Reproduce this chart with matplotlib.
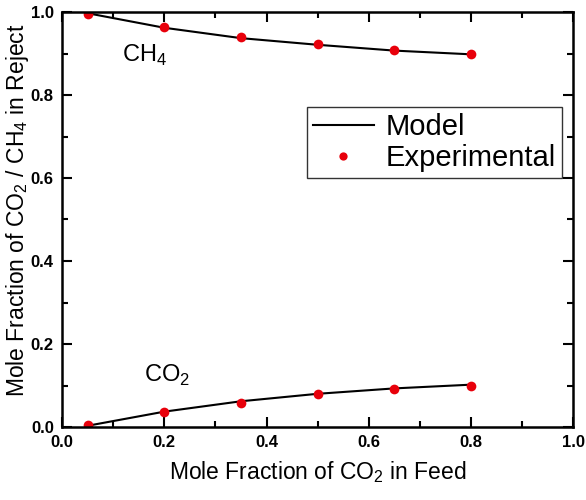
import matplotlib
matplotlib.use("Agg")
import matplotlib.pyplot as plt
from matplotlib.ticker import MultipleLocator

plt.rcParams['font.family'] = ['Liberation Sans', 'DejaVu Sans']
plt.rcParams['mathtext.fontset'] = 'custom'
plt.rcParams['mathtext.rm'] = 'Liberation Sans'

# 进料中CO2摩尔分数
feed_co2 = [0.05, 0.2, 0.35, 0.5, 0.65, 0.8]

# 实验值
exp_ch4 = [0.995, 0.964, 0.939, 0.922, 0.908, 0.900]
exp_co2 = [0.004, 0.036, 0.058, 0.079, 0.092, 0.100]

# 模型值
model_ch4 = [0.997, 0.962, 0.937, 0.921, 0.907, 0.898]
model_co2 = [0.003, 0.037, 0.062, 0.080, 0.093, 0.102]

fig = plt.figure(figsize=(5.86, 5.0), dpi=100)
ax = fig.add_axes([0.106, 0.146, 0.872, 0.830])

ax.plot(feed_co2, model_ch4, color='black', linewidth=1.5, label='Model')
ax.plot(feed_co2, model_co2, color='black', linewidth=1.5)
ax.plot(feed_co2, exp_ch4, 'o', color='#e8000b', markersize=7,
        markeredgewidth=0, label='Experimental')
ax.plot(feed_co2, exp_co2, 'o', color='#e8000b', markersize=7,
        markeredgewidth=0)

ax.set_xlim(0, 1)
ax.set_ylim(0, 1)
ax.xaxis.set_major_locator(MultipleLocator(0.2))
ax.xaxis.set_minor_locator(MultipleLocator(0.1))
ax.yaxis.set_major_locator(MultipleLocator(0.2))
ax.yaxis.set_minor_locator(MultipleLocator(0.1))
ax.xaxis.set_major_formatter(plt.FormatStrFormatter('%.1f'))
ax.yaxis.set_major_formatter(plt.FormatStrFormatter('%.1f'))

ax.tick_params(which='both', direction='in', top=True, right=True,
               width=1.5)
ax.tick_params(which='major', length=7, labelsize=12, pad=6)
ax.tick_params(which='minor', length=4)
for lab in ax.get_xticklabels() + ax.get_yticklabels():
    lab.set_fontweight('bold')
for sp in ax.spines.values():
    sp.set_linewidth(1.8)

ax.set_xlabel('Mole Fraction of CO$_2$ in Feed', fontsize=16.5, labelpad=6)
ax.set_ylabel('Mole Fraction of CO$_2$ / CH$_4$ in Reject', fontsize=16.5)
ax.yaxis.set_label_coords(-0.06, 0.523)

ax.text(0.118, 0.895, 'CH$_4$', fontsize=17, ha='left', va='center')
ax.text(0.16, 0.125, 'CO$_2$', fontsize=17, ha='left', va='center')

leg = ax.legend(loc='upper left', bbox_to_anchor=(0.479, 0.771),
                fontsize=21, frameon=True, fancybox=False, edgecolor='black',
                handlelength=2.1, handletextpad=0.4, borderpad=0.2,
                labelspacing=0.1, borderaxespad=0, markerscale=0.85)
leg.get_frame().set_linewidth(1.0)

fig.savefig('out.png', dpi=100)
